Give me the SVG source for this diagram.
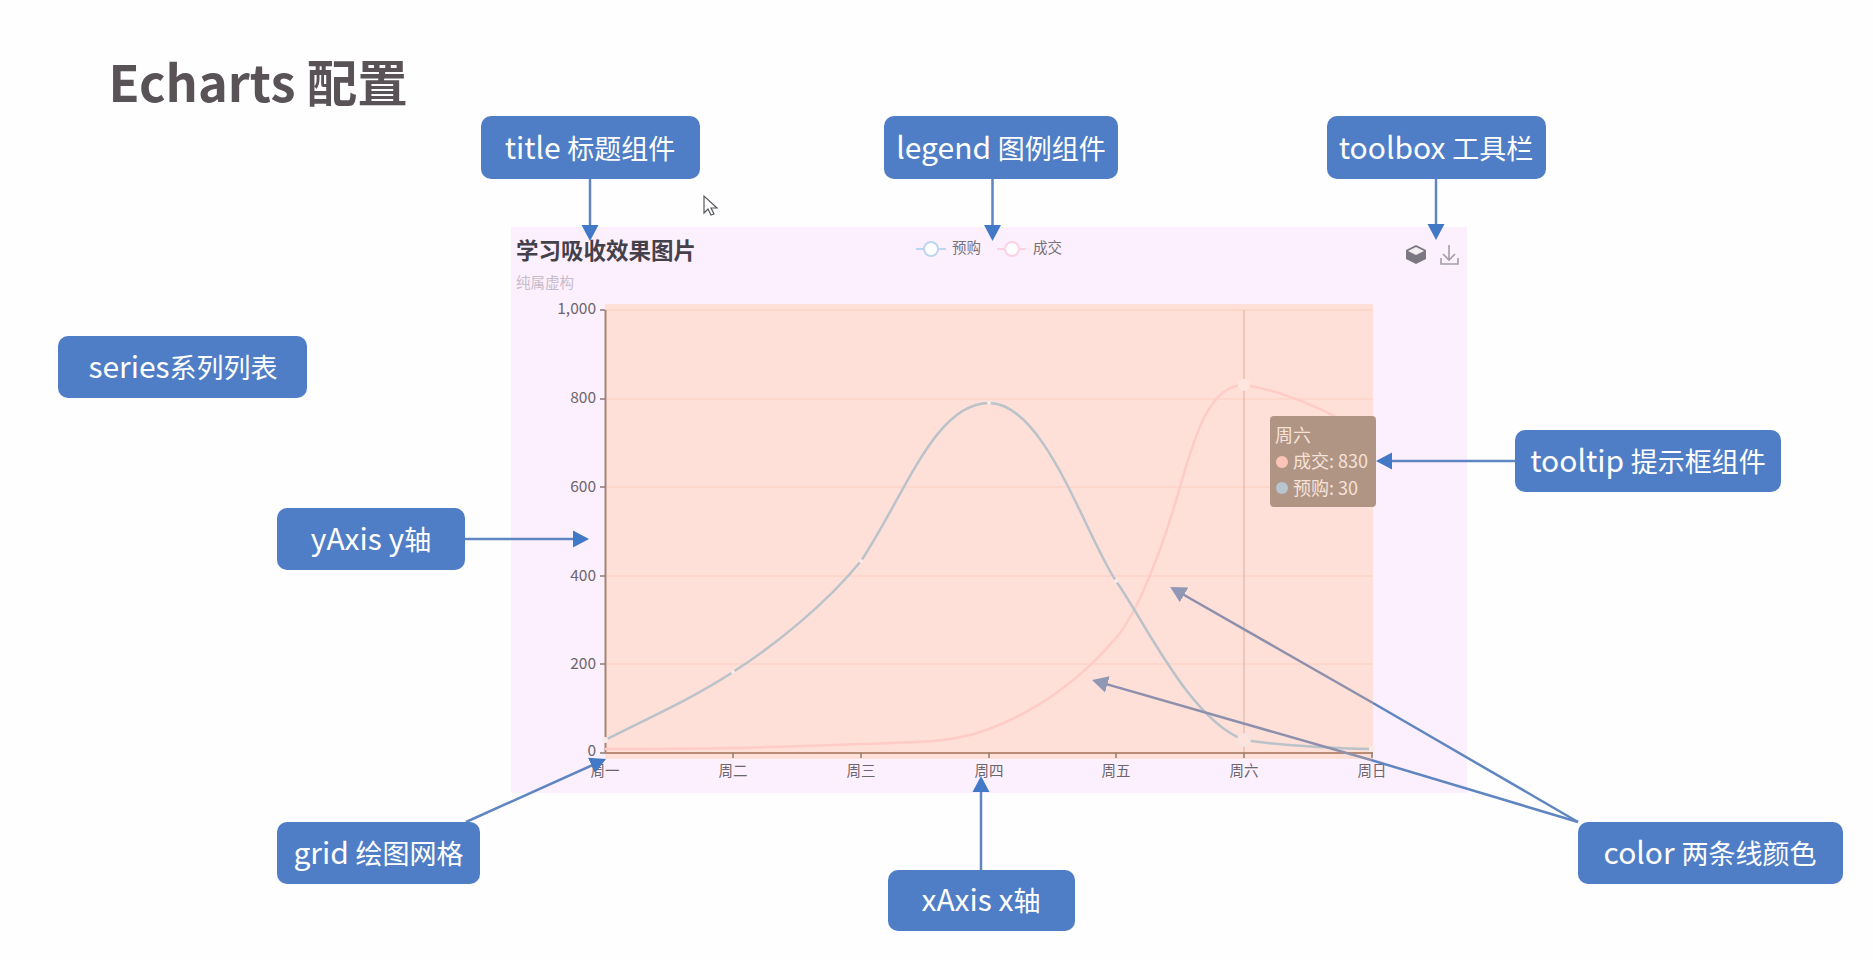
<svg xmlns="http://www.w3.org/2000/svg" width="1873" height="960" viewBox="0 0 1873 960">
<defs>
<marker id="ah" markerUnits="userSpaceOnUse" markerWidth="18" markerHeight="18" refX="11" refY="9" orient="auto"><path d="M0,0.500 L16,9 L0,17.500 Z" fill="#4279c6"/></marker>
<marker id="ahg" markerUnits="userSpaceOnUse" markerWidth="18" markerHeight="18" refX="11" refY="9" orient="auto"><path d="M0,0.500 L16,9 L0,17.500 Z" fill="#9198b6"/></marker>
</defs>
<style>
text{font-family:"Noto Sans CJK SC","Liberation Sans",sans-serif}
.box{fill:#4f7ec6}
.lbl{fill:#fff;font-size:30px;text-anchor:middle}
.c{font-size:27px}
.conn{stroke:#5f86c1;stroke-width:2.500;fill:none}
.arr{marker-end:url(#ah)}
.gray{stroke:#8d90ad;stroke-width:2.500;fill:none;marker-end:url(#ahg)}
.grid{stroke:#fcd3c8;stroke-width:1.500}
.tick{stroke:#8c7a74;stroke-width:1.500;fill:none}
.yl{font-size:15.500px;fill:#6c666c;text-anchor:end}
.xl{font-size:14.500px;fill:#6c666c;text-anchor:middle}
.pt{fill:#f8ece8}
.tt{fill:#f6e2d6;font-size:18px}
</style>
<rect width="1873" height="960" fill="#fefefe"/>
<text id="heading" x="108.500" y="102" font-size="50.500" font-weight="700" fill="#595358">Echarts 配置</text>

<g id="chart">
<rect x="511" y="227" width="956" height="566" fill="#fdf0fe"/>
<rect x="605" y="304" width="768" height="455" fill="#fee0d8"/>
<g id="gridlines">
<line class="grid" x1="605" y1="310" x2="1373" y2="310" style="stroke:#fcd5c2"/>
<line class="grid" x1="605" y1="399" x2="1373" y2="399"/>
<line class="grid" x1="605" y1="487" x2="1373" y2="487"/>
<line class="grid" x1="605" y1="576" x2="1373" y2="576"/>
<line class="grid" x1="605" y1="664" x2="1373" y2="664"/>
</g>
<line x1="1244" y1="310" x2="1244" y2="753" stroke="#deaea0" stroke-width="1"/>
<g id="axes">
<line x1="605.500" y1="310" x2="605.500" y2="753" stroke="#a58476" stroke-width="2"/>
<line x1="605" y1="753" x2="1373" y2="753" stroke="#b88c74" stroke-width="2"/>
<path class="tick" d="M600,310H605M600,399H605M600,487H605M600,576H605M600,664H605M600,753H605M733,753V758M861,753V758M989,753V758M1116,753V758M1244,753V758M1372,753V758"/>
</g>
<g id="ylabels">
<text class="yl" x="596" y="314">1,000</text>
<text class="yl" x="596" y="403">800</text>
<text class="yl" x="596" y="492">600</text>
<text class="yl" x="596" y="581">400</text>
<text class="yl" x="596" y="669">200</text>
<text class="yl" x="596" y="756">0</text>
</g>
<g id="xlabels">
<text class="xl" x="605" y="776">周一</text>
<text class="xl" x="733" y="776">周二</text>
<text class="xl" x="861" y="776">周三</text>
<text class="xl" x="989" y="776">周四</text>
<text class="xl" x="1116" y="776">周五</text>
<text class="xl" x="1244" y="776">周六</text>
<text class="xl" x="1372" y="776">周日</text>
</g>
<path id="series-deal" d="M605,749 C650,749 690,749 733,748 C765,747 815,746 861,744 C910,742 950,744 989,729 C1040,710 1085,675 1116,638 C1140,610 1165,540 1180,487 C1195,434 1210,385 1244,385 C1280,390 1330,410 1372,438" fill="none" stroke="#ffcbc7" stroke-width="2.500"/>
<path id="series-pre" d="M605,740 C650,717 690,700 733,672 C775,645 825,605 861,561 C905,495 935,403 989,403 C1045,403 1085,535 1116,581 C1145,622 1190,720 1244,740 C1285,746 1330,748 1372,749" fill="none" stroke="#bac2ca" stroke-width="2.500"/>
<g id="points">
<circle class="pt" cx="605" cy="740" r="3"/><circle class="pt" cx="733" cy="672" r="2"/><circle class="pt" cx="861" cy="561" r="2"/><circle class="pt" cx="989" cy="403" r="2"/><circle class="pt" cx="1116" cy="581" r="2"/><circle class="pt" cx="1372" cy="749" r="3"/>
<circle cx="1244" cy="740" r="6" fill="#fee4dc" stroke="#f2e4e0" stroke-width="2"/>
<circle cx="1244" cy="385" r="5" fill="#ffe6e0" stroke="#ffe6e0" stroke-width="2"/>
</g>
<text x="516" y="259" font-size="22.500" font-weight="700" fill="#45414a">学习吸收效果图片</text>
<text x="516" y="288" font-size="14.500" fill="#c6bcca">纯属虚构</text>
<g id="legend">
<line x1="916" y1="249" x2="946" y2="249" stroke="#bcd6f0" stroke-width="2"/>
<circle cx="931" cy="249" r="7" fill="#fff" stroke="#bcd6f0" stroke-width="2"/>
<text x="952" y="253" font-size="14.500" fill="#77727a">预购</text>
<line x1="997" y1="249" x2="1026" y2="249" stroke="#fbd2e2" stroke-width="2"/>
<circle cx="1012" cy="249" r="7" fill="#fff" stroke="#fbd2e2" stroke-width="2"/>
<text x="1033" y="253" font-size="14.500" fill="#77727a">成交</text>
</g>
<g id="toolbox-icons">
<path d="M1416,245 L1426,250 V259 L1416,264 L1406,259 V250 Z" fill="#7c7882"/>
<path d="M1416,247 L1424,251 L1416,255 L1408,251 Z" fill="#f2eef2"/>
<path d="M1449,245 V260 M1443,254 L1449,260 L1455,254 M1441,258 V264 H1458 V258" fill="none" stroke="#a29ea6" stroke-width="1.600"/>
</g>
<g id="tooltip">
<rect x="1270" y="416" width="106" height="91" rx="4" fill="#b09585"/>
<text class="tt" x="1275" y="442">周六</text>
<circle cx="1282" cy="462" r="6" fill="#fcc4b9"/>
<text class="tt" x="1293" y="468">成交: 830</text>
<circle cx="1282" cy="488" r="6" fill="#b7c5d1"/>
<text class="tt" x="1293" y="495">预购: 30</text>
</g>
</g>

<path id="cursor" d="M704,196 V213 L708,209 L711,215 L714,214 L711,208 L717,208 Z" fill="#fff" stroke="#55585c" stroke-width="1.200"/>

<g id="connectors">
<line class="conn arr" x1="590" y1="179" x2="590" y2="236"/>
<line class="conn arr" x1="992.500" y1="179" x2="992.500" y2="236"/>
<line class="conn arr" x1="1436" y1="179" x2="1436" y2="235"/>
<line class="conn arr" x1="1515" y1="461" x2="1381" y2="461"/>
<line class="conn arr" x1="465" y1="539" x2="584" y2="539"/>
<line class="conn arr" x1="466" y1="822" x2="601.500" y2="761"/>
<line class="conn arr" x1="981" y1="870" x2="981" y2="781"/>
<line class="conn" x1="1578" y1="822" x2="1373" y2="703"/>
<line class="conn" x1="1578" y1="822" x2="1371" y2="760"/>
<line class="gray" x1="1373" y1="703" x2="1174.500" y2="589.500"/>
<line class="gray" x1="1371" y1="760" x2="1096.800" y2="681.400"/>
</g>

<g id="node-title"><rect class="box" x="481" y="116" width="219" height="63" rx="10"/><text class="lbl" x="590" y="159">title <tspan class="c">标题组件</tspan></text></g>
<g id="node-legend"><rect class="box" x="884" y="116" width="234" height="63" rx="10"/><text class="lbl" x="1001" y="159">legend <tspan class="c">图例组件</tspan></text></g>
<g id="node-toolbox"><rect class="box" x="1327" y="116" width="219" height="63" rx="10"/><text class="lbl" x="1436" y="159">toolbox <tspan class="c">工具栏</tspan></text></g>
<g id="node-series"><rect class="box" x="58" y="336" width="249" height="62" rx="10"/><text class="lbl" x="183" y="378">series<tspan class="c">系列列表</tspan></text></g>
<g id="node-yaxis"><rect class="box" x="277" y="508" width="188" height="62" rx="10"/><text class="lbl" x="371" y="550">yAxis y<tspan class="c">轴</tspan></text></g>
<g id="node-tooltip"><rect class="box" x="1515" y="430" width="266" height="62" rx="10"/><text class="lbl" x="1648" y="472">tooltip <tspan class="c">提示框组件</tspan></text></g>
<g id="node-grid"><rect class="box" x="277" y="822" width="203" height="62" rx="10"/><text class="lbl" x="378.500" y="864">grid <tspan class="c">绘图网格</tspan></text></g>
<g id="node-xaxis"><rect class="box" x="888" y="870" width="187" height="61" rx="10"/><text class="lbl" x="981" y="911">xAxis x<tspan class="c">轴</tspan></text></g>
<g id="node-color"><rect class="box" x="1578" y="822" width="265" height="62" rx="10"/><text class="lbl" x="1710" y="864">color <tspan class="c">两条线颜色</tspan></text></g>
</svg>
